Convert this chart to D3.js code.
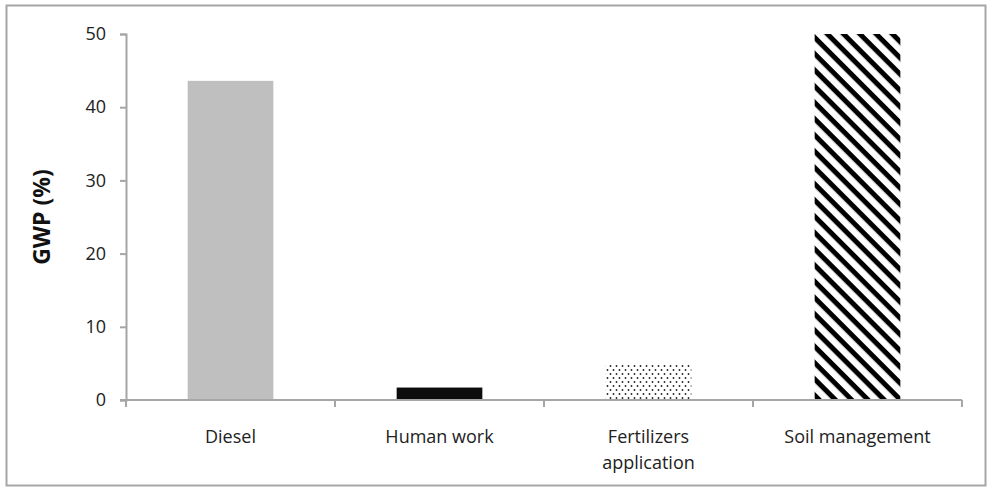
<!DOCTYPE html>
<html>
<head>
<meta charset="utf-8">
<script src="https://cdn.jsdelivr.net/npm/d3@7"></script>
<style>
  body { margin: 0; background: white; }
  text { font-family: "Open Sans", sans-serif; }
</style>
</head>
<body>
<div id="chart"></div>
<script>
let w = 989;
let h = 491;

// data
let categories = ["Diesel", "Human work", "Fertilizers\napplication", "Soil management"];
let values = [43.6, 1.7, 5.0, 50];
let fills = ["#bfbfbf", "#0d0d0d", "url(#dots)", "url(#stripes)"];
let yTicks = [0, 10, 20, 30, 40, 50];

let svg = d3.select("#chart")
  .append("svg")
  .attr("width", w)
  .attr("height", h);

// patterns
let defs = svg.append("defs");
let dots = defs.append("pattern")
  .attr("id", "dots")
  .attr("patternUnits", "userSpaceOnUse")
  .attr("width", 6)
  .attr("height", 8);
dots.append("rect").attr("width", 6).attr("height", 8).attr("fill", "white");
dots.append("circle").attr("cx", 1.5).attr("cy", 2).attr("r", 0.9).attr("fill", "#222");
dots.append("circle").attr("cx", 4.5).attr("cy", 6).attr("r", 0.9).attr("fill", "#222");

let stripes = defs.append("pattern")
  .attr("id", "stripes")
  .attr("patternUnits", "userSpaceOnUse")
  .attr("width", 11.5)
  .attr("height", 11.5)
  .attr("patternTransform", "rotate(45)");
stripes.append("rect").attr("width", 11.5).attr("height", 11.5).attr("fill", "white");
stripes.append("rect").attr("x", 0).attr("y", 0).attr("width", 11.5).attr("height", 5).attr("fill", "#000");

// outer frame
svg.append("rect")
  .attr("x", 6.5).attr("y", 5.5)
  .attr("width", 979).attr("height", 480)
  .attr("fill", "white")
  .attr("stroke", "#a6a6a6")
  .attr("stroke-width", 2);

let mLeft = 126, mRight = 962, mTop = 34, mBottom = 400;

let xScale = d3.scaleBand()
  .domain(categories)
  .range([mLeft, mRight])
  .paddingInner(0.59)
  .paddingOuter(0.295);

let yScale = d3.scaleLinear().domain([0, 50]).range([mBottom, mTop]);

// bars
svg.selectAll(".bar").data(values).enter()
  .append("rect")
  .attr("class", "bar")
  .attr("x", (d, i) => xScale(categories[i]))
  .attr("y", d => yScale(d))
  .attr("width", xScale.bandwidth())
  .attr("height", d => mBottom - yScale(d))
  .attr("fill", (d, i) => fills[i]);

// y axis
let yAxis = svg.append("g")
  .attr("transform", "translate(" + mLeft + ",0)")
  .call(d3.axisLeft(yScale).tickValues(yTicks).tickSize(6).tickPadding(14));
yAxis.select(".domain").attr("stroke", "#a6a6a6").attr("stroke-width", 2);
yAxis.selectAll(".tick line").attr("stroke", "#a6a6a6").attr("stroke-width", 2);
yAxis.selectAll(".tick text").attr("font-size", 18).attr("fill", "#222")
  .style("font-family", "'Open Sans', sans-serif");

// x axis
let step = (mRight - mLeft) / categories.length;
let xLine = svg.append("g");
xLine.append("line")
  .attr("x1", mLeft - 6).attr("x2", mRight)
  .attr("y1", mBottom).attr("y2", mBottom)
  .attr("stroke", "#a6a6a6").attr("stroke-width", 2);
xLine.selectAll(".xtick").data(d3.range(categories.length + 1)).enter()
  .append("line")
  .attr("x1", d => mLeft + d * step).attr("x2", d => mLeft + d * step)
  .attr("y1", mBottom).attr("y2", mBottom + 7)
  .attr("stroke", "#a6a6a6").attr("stroke-width", 2);

let labels = svg.selectAll(".xlabel").data(categories).enter()
  .append("text")
  .attr("class", "xlabel")
  .attr("text-anchor", "middle")
  .attr("font-size", 18)
  .attr("fill", "#222")
  .attr("x", d => xScale(d) + xScale.bandwidth() / 2)
  .attr("y", 443);
labels.selectAll("tspan").data(d => d.split("\n")).enter()
  .append("tspan")
  .attr("x", function() { return d3.select(this.parentNode).attr("x"); })
  .attr("dy", (d, i) => i === 0 ? 0 : 26)
  .text(d => d);

// y title
svg.append("text")
  .attr("transform", "translate(50," + (mBottom + mTop) / 2 + ") rotate(-90)")
  .attr("text-anchor", "middle")
  .attr("font-size", 23)
  .attr("font-weight", "bold")
  .attr("fill", "#111")
  .text("GWP (%)");
</script>
</body>
</html>
